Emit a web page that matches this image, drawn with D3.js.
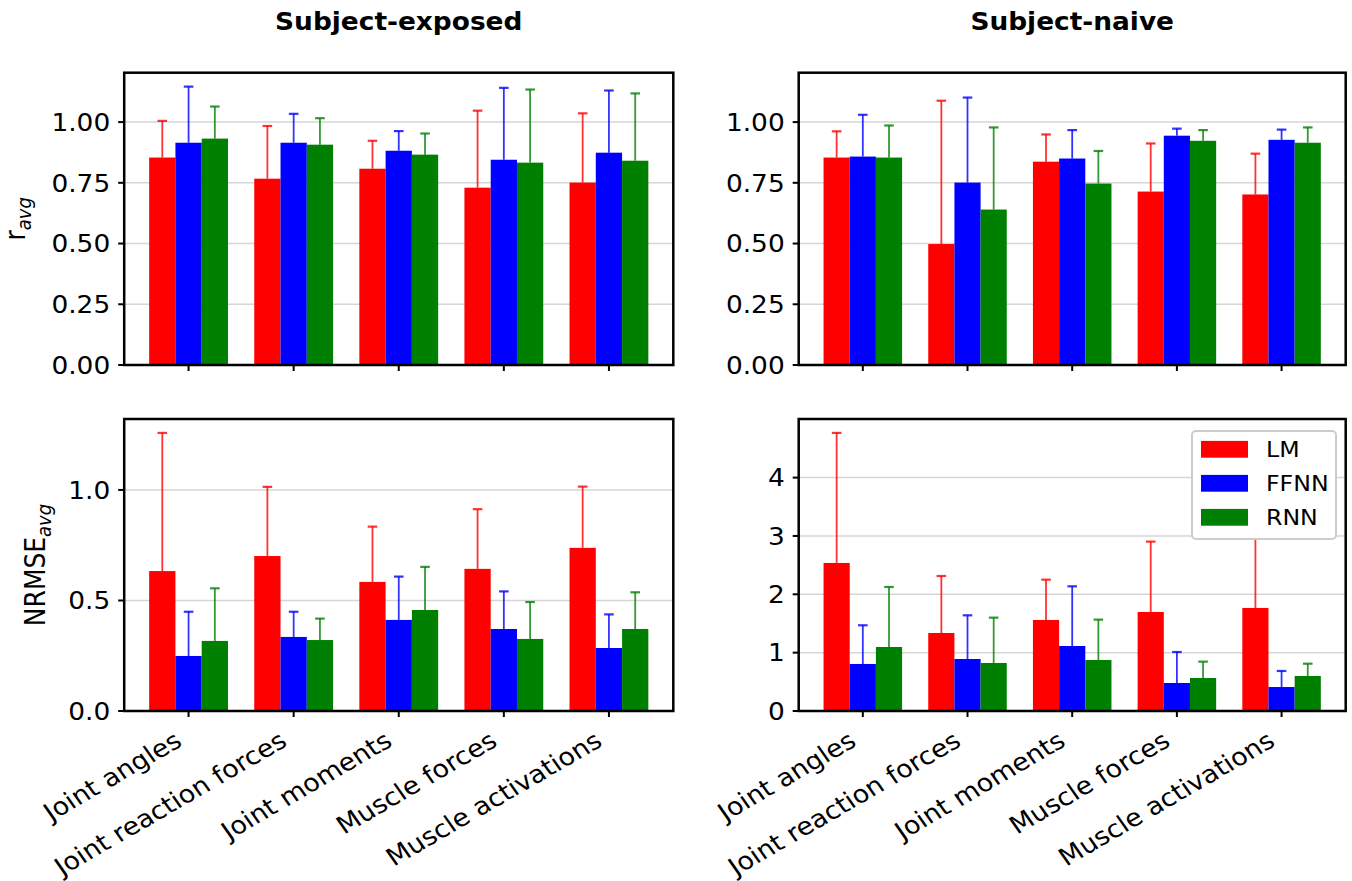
<!DOCTYPE html>
<html><head><meta charset="utf-8">
<script src="https://cdn.jsdelivr.net/npm/d3@7"></script>
<style>body{margin:0;background:#fff} svg{display:block}</style>
</head><body><svg id="c" width="1352" height="881"></svg>
<script>
// ---------------- data ----------------
const categories = ["Joint angles", "Joint reaction forces", "Joint moments", "Muscle forces", "Muscle activations"];
const seriesNames = ["LM", "FFNN", "RNN"];
const seriesColors = ["#ff0000", "#0000ff", "#008000"];
const columnTitles = ["Subject-exposed", "Subject-naive"];

// r_avg, subject-exposed (mean, upper error)
const rExposedLM = [0.854, 0.767, 0.808, 0.730, 0.751];
const rExposedLMErr = [0.151, 0.217, 0.115, 0.317, 0.285];
const rExposedFFNN = [0.915, 0.915, 0.882, 0.845, 0.874];
const rExposedFFNNErr = [0.231, 0.119, 0.081, 0.296, 0.256];
const rExposedRNN = [0.932, 0.907, 0.866, 0.833, 0.841];
const rExposedRNNErr = [0.132, 0.109, 0.087, 0.301, 0.277];

// r_avg, subject-naive
const rNaiveLM = [0.854, 0.498, 0.837, 0.714, 0.702];
const rNaiveLMErr = [0.108, 0.590, 0.112, 0.198, 0.168];
const rNaiveFFNN = [0.858, 0.751, 0.850, 0.944, 0.927];
const rNaiveFFNNErr = [0.172, 0.350, 0.117, 0.029, 0.042];
const rNaiveRNN = [0.854, 0.640, 0.747, 0.923, 0.915];
const rNaiveRNNErr = [0.132, 0.338, 0.134, 0.044, 0.063];

// NRMSE_avg, subject-exposed
const nExposedLM = [0.633, 0.701, 0.584, 0.643, 0.738];
const nExposedLMErr = [0.625, 0.313, 0.250, 0.270, 0.277];
const nExposedFFNN = [0.249, 0.335, 0.412, 0.371, 0.285];
const nExposedFFNNErr = [0.200, 0.114, 0.196, 0.170, 0.152];
const nExposedRNN = [0.317, 0.321, 0.457, 0.326, 0.371];
const nExposedRNNErr = [0.238, 0.097, 0.195, 0.167, 0.166];

// NRMSE_avg, subject-naive
const nNaiveLM = [2.537, 1.337, 1.560, 1.697, 1.766];
const nNaiveLMErr = [2.229, 0.977, 0.691, 1.206, 1.630];
const nNaiveFFNN = [0.806, 0.891, 1.114, 0.480, 0.411];
const nNaiveFFNNErr = [0.663, 0.749, 1.023, 0.531, 0.275];
const nNaiveRNN = [1.097, 0.823, 0.874, 0.566, 0.600];
const nNaiveRNNErr = [1.029, 0.777, 0.692, 0.280, 0.211];

const rTicks = [0, 0.25, 0.5, 0.75, 1.0];
const nExposedTicks = [0, 0.5, 1.0];
const nNaiveTicks = [0, 1, 2, 3, 4];
const rowLabels = [["r", "avg"], ["NRMSE", "avg"]];

// ---------------- layout ----------------
const SX = 1.1;               // horizontal text stretch of the reference
const FONT = "DejaVu Sans, Verdana, sans-serif";
const colX = [[124.2, 673.3], [798.7, 1345.7]];
const rowY = [[72.7, 365], [419, 711]];

const svg = d3.select("#c");

function txt(g, x, y, str, o = {}) {
  const t = g.append("text")
    .attr("transform", `translate(${x},${y}) scale(${SX},1) rotate(${o.rot || 0})`)
    .attr("font-family", FONT)
    .attr("font-size", o.size || 24)
    .attr("font-weight", o.weight || "normal")
    .attr("text-anchor", o.anchor || "start")
    .attr("fill", "#000");
  if (str !== null) t.text(str);
  return t;
}

const panels = [
  { row: 0, col: 0, means: [rExposedLM, rExposedFFNN, rExposedRNN], errs: [rExposedLMErr, rExposedFFNNErr, rExposedRNNErr], ticks: rTicks, fmt: d3.format(".2f") },
  { row: 0, col: 1, means: [rNaiveLM, rNaiveFFNN, rNaiveRNN], errs: [rNaiveLMErr, rNaiveFFNNErr, rNaiveRNNErr], ticks: rTicks, fmt: d3.format(".2f") },
  { row: 1, col: 0, means: [nExposedLM, nExposedFFNN, nExposedRNN], errs: [nExposedLMErr, nExposedFFNNErr, nExposedRNNErr], ticks: nExposedTicks, fmt: d3.format(".1f") },
  { row: 1, col: 1, means: [nNaiveLM, nNaiveFFNN, nNaiveRNN], errs: [nNaiveLMErr, nNaiveFFNNErr, nNaiveRNNErr], ticks: nNaiveTicks, fmt: d3.format("d") },
];

function capMax(p) {
  return d3.max(p.means.map((m, s) => d3.max(m.map((v, i) => v + p.errs[s][i]))));
}
// top row shares y, bottom row independent (matplotlib 5% margin)
const topMax = Math.max(capMax(panels[0]), capMax(panels[1])) * 1.05;
panels.forEach(p => { p.yMax = p.row === 0 ? topMax : capMax(p) * 1.05; });

const barW = 0.25;
const offsets = [-0.25, 0, 0.25];

panels.forEach(p => {
  const [x0, x1] = colX[p.col];
  const [y0, y1] = rowY[p.row];
  const x = d3.scaleLinear().domain([-0.6125, categories.length - 1 + 0.6125]).range([x0, x1]);
  const y = d3.scaleLinear().domain([0, p.yMax]).range([y1, y0]);
  const g = svg.append("g");

  // grid
  g.selectAll(".grid").data(p.ticks.filter(t => t > 0)).enter().append("line")
    .attr("x1", x0).attr("x2", x1).attr("y1", d => y(d)).attr("y2", d => y(d))
    .attr("stroke", "#d6d6d6").attr("stroke-width", 1.5);

  // bars
  p.means.forEach((m, s) => {
    g.selectAll(null).data(m).enter().append("rect")
      .attr("x", (d, i) => x(i + offsets[s] - barW / 2))
      .attr("width", (d, i) => x(i + offsets[s] + barW / 2) - x(i + offsets[s] - barW / 2))
      .attr("y", d => y(d))
      .attr("height", d => y(0) - y(d))
      .attr("fill", seriesColors[s]);
  });
  // error bars (upper)
  p.means.forEach((m, s) => {
    const eg = g.append("g").attr("stroke", seriesColors[s]).attr("stroke-opacity", 0.8);
    m.forEach((v, i) => {
      const cx = x(i + offsets[s]);
      const top = y(v + p.errs[s][i]);
      eg.append("line").attr("x1", cx).attr("x2", cx).attr("y1", y(v)).attr("y2", top).attr("stroke-width", 1.8);
      eg.append("line").attr("x1", cx - 4.8).attr("x2", cx + 4.8).attr("y1", top).attr("y2", top).attr("stroke-width", 2.2);
    });
  });

  // frame
  g.append("rect").attr("x", x0).attr("y", y0).attr("width", x1 - x0).attr("height", y1 - y0)
    .attr("fill", "none").attr("stroke", "#000").attr("stroke-width", 2.5);

  // y ticks
  p.ticks.forEach(t => {
    g.append("line").attr("x1", x0 - 6).attr("x2", x0).attr("y1", y(t)).attr("y2", y(t))
      .attr("stroke", "#000").attr("stroke-width", 2);
    txt(g, x0 - 14, y(t) + 8.7, p.fmt(t), { anchor: "end", size: 24 });
  });
  // x ticks
  categories.forEach((c, i) => {
    g.append("line").attr("x1", x(i)).attr("x2", x(i)).attr("y1", y1).attr("y2", y1 + 6)
      .attr("stroke", "#000").attr("stroke-width", 2);
    if (p.row === 1) {
      txt(g, x(i) - 5, y1 + 34, c, { anchor: "end", size: 24.5, rot: -32.5 });
    }
  });

  // column titles
  if (p.row === 0) {
    txt(g, (x0 + x1) / 2, 30, columnTitles[p.col], { anchor: "middle", size: 24, weight: "bold" });
  }
  // row labels
  if (p.col === 0) {
    const lx = p.row === 0 ? 25 : 45;
    const t = txt(g, lx, (y0 + y1) / 2, null, { anchor: "middle", size: 25, rot: -90 });
    t.append("tspan").text(rowLabels[p.row][0]);
    t.append("tspan").attr("font-size", 18).attr("font-style", "italic").attr("dy", 5).text(rowLabels[p.row][1]);
  }

  // legend in last panel
  if (p.row === 1 && p.col === 1) {
    const lg = svg.append("g");
    lg.append("rect").attr("x", 1192).attr("y", 431).attr("width", 144).attr("height", 108)
      .attr("rx", 4).attr("fill", "#fff").attr("stroke", "#cccccc").attr("stroke-width", 2);
    seriesNames.forEach((n, s) => {
      const cy = 449.3 + s * 34;
      lg.append("rect").attr("x", 1201).attr("y", cy - 8.4).attr("width", 47).attr("height", 16.8).attr("fill", seriesColors[s]);
      txt(lg, 1266, cy + 7.8, n, { size: 21.5 });
    });
  }
});
</script></body></html>
